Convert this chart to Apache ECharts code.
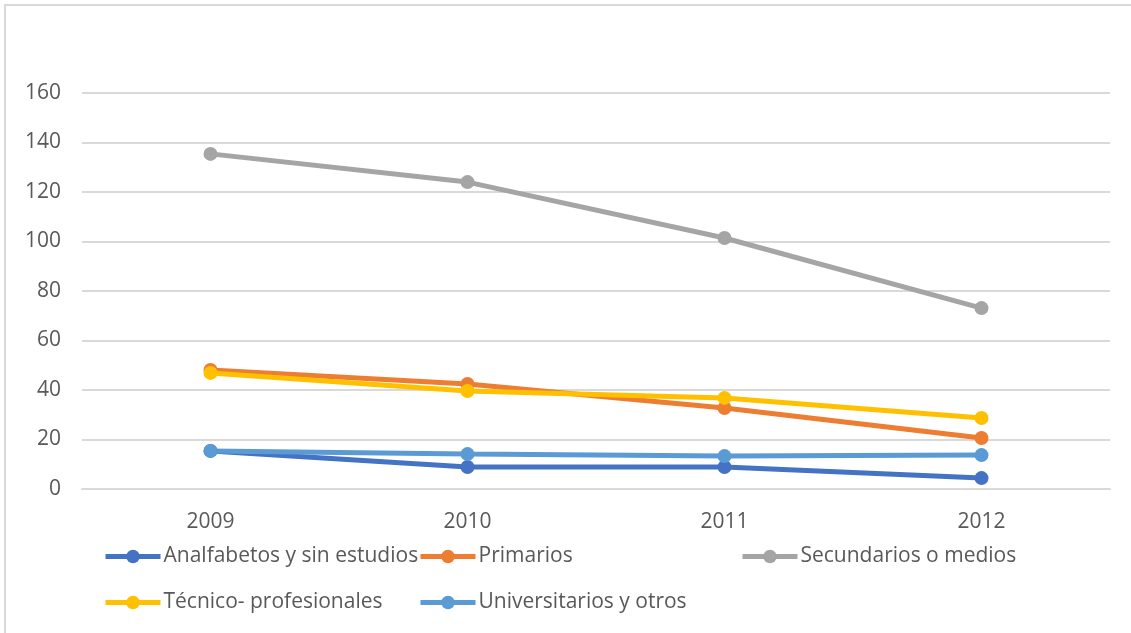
<!DOCTYPE html>
<html>
<head>
<meta charset="utf-8">
<script src="https://cdn.jsdelivr.net/npm/echarts@6/dist/echarts.min.js"></script>
<style>html,body{margin:0;padding:0;background:#fff;}#c{width:1131px;height:633px;}</style>
</head>
<body>
<div id="c"></div>
<script>
const years = ['2009', '2010', '2011', '2012'];
const analfabetos = [15.4, 8.9, 8.9, 4.4];
const primarios = [48.1, 42.4, 32.7, 20.6];
const secundarios = [135.4, 124.0, 101.4, 73.1];
const tecnico = [46.9, 39.6, 36.8, 28.7];
const universitarios = [15.4, 14.1, 13.3, 13.7];
const yTicks = [0, 20, 40, 60, 80, 100, 120, 140, 160];

const names = ['Analfabetos y sin estudios', 'Primarios', 'Secundarios o medios', 'Técnico- profesionales', 'Universitarios y otros'];
const values = [analfabetos, primarios, secundarios, tecnico, universitarios];
const colors = ['#4472C4', '#ED7D31', '#A5A5A5', '#FFC000', '#5B9BD5'];
const FONT = 'Open Sans';
const TXT = '#595959';

const legendPos = [[103, 546], [418, 546], [740, 546], [103, 592], [418, 592]];

const chart = echarts.init(document.getElementById('c'), null, {renderer: 'canvas'});
chart.setOption({
  backgroundColor: '#fff',
  animation: false,
  color: colors,
  graphic: [{
    type: 'rect', shape: {x: 5, y: 5, width: 1140, height: 640},
    style: {fill: 'none', stroke: '#d9d9d9', lineWidth: 2}, silent: true, z: -1
  }],
  grid: {left: 82, right: 21, top: 93, bottom: 144},
  xAxis: {
    type: 'category', data: years, boundaryGap: true,
    axisLine: {show: true, lineStyle: {color: '#d9d9d9', width: 2}},
    axisTick: {show: false},
    axisLabel: {color: TXT, fontFamily: FONT, fontSize: 21, margin: 23}
  },
  yAxis: {
    type: 'value', min: yTicks[0], max: yTicks[yTicks.length - 1], interval: 20,
    axisLine: {show: false}, axisTick: {show: false},
    splitLine: {lineStyle: {color: '#d9d9d9', width: 2}},
    axisLabel: {color: TXT, fontFamily: FONT, fontSize: 21, margin: 21}
  },
  legend: names.map((n, i) => ({
    data: [n], left: legendPos[i][0], top: legendPos[i][1],
    itemWidth: 55, itemHeight: 17, padding: 0, itemGap: 0,
    lineStyle: {width: 5},
    textStyle: {color: TXT, fontFamily: FONT, fontSize: 21, padding: [0, 0, 0, -2]}
  })),
  series: names.map((n, i) => ({
    name: n, type: 'line', data: values[i],
    symbol: 'circle', symbolSize: 14,
    lineStyle: {width: 5, color: colors[i]},
    itemStyle: {color: colors[i]}
  }))
});
</script>
</body>
</html>
